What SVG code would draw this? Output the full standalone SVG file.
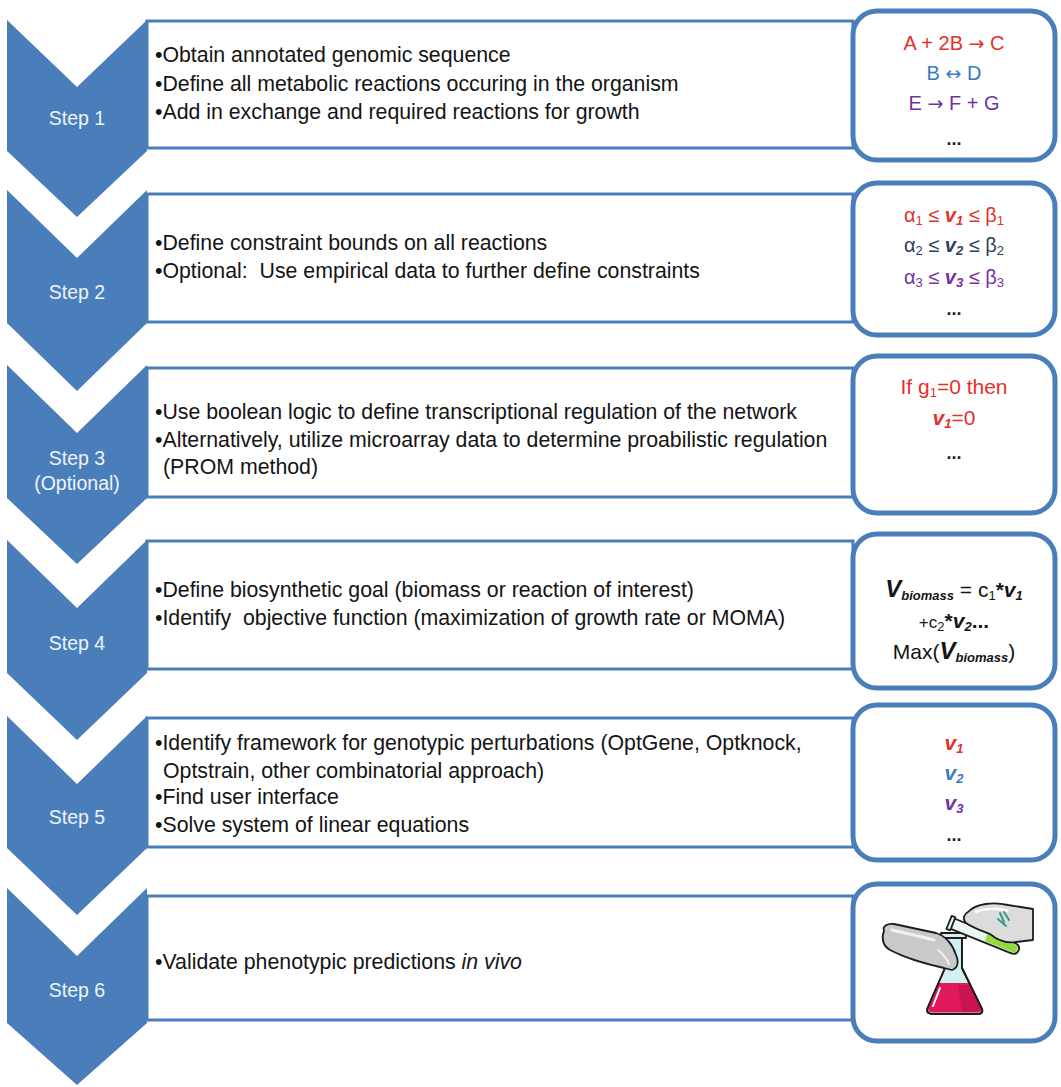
<svg xmlns="http://www.w3.org/2000/svg" width="1061" height="1087" viewBox="0 0 1061 1087">
  <style>
    .chev { fill: #4a7ebb; }
    .panel { fill: #ffffff; stroke: #4a7ebb; stroke-width: 3; }
    .side { fill: #ffffff; stroke: #4a7ebb; stroke-width: 5; }
    .step { font-family: "Liberation Sans", Arial, sans-serif; font-size: 19.5px; fill: #eef3fa; text-anchor: middle; }
    .body { font-family: "Liberation Sans", Arial, sans-serif; font-size: 21.3px; fill: #141414; white-space: pre; }
    .eq { font-family: "Liberation Sans", Arial, sans-serif; font-size: 20px; text-anchor: middle; }
    .arw { font-family: "DejaVu Sans", sans-serif; font-size: 19px; }
    .red { fill: #e2302c; }
    .blue { fill: #3b79c2; }
    .navy { fill: #2e3f5e; }
    .purple { fill: #7332a2; }
    .blk { fill: #141414; }
    .bi { font-weight: bold; font-style: italic; }
    .sub { font-size: 13px; }
    .dots { font-family: "Liberation Sans", Arial, sans-serif; font-size: 18px; font-weight: bold; fill: #222; text-anchor: middle; }
    .ink { stroke: #1c1c1c; stroke-width: 1.8; stroke-linejoin: round; }
  </style>

  <!-- step 1 -->
  <g id="step1">
    <polygon class="chev" points="7,20 77,87 147,20 147,151 77,217 7,151"/>
    <text class="step" x="77" y="125">Step 1</text>
    <rect class="panel" x="147" y="21" width="706" height="127"/>
    <text class="body" x="155" y="62">•Obtain annotated genomic sequence</text>
    <text class="body" x="155" y="91">•Define all metabolic reactions occuring in the organism</text>
    <text class="body" x="155" y="119">•Add in exchange and required reactions for growth</text>
    <rect class="side" x="853" y="11" width="202" height="149" rx="24"/>
    <text class="eq red" x="954" y="50">A + 2B <tspan class="arw">→</tspan> C</text>
    <text class="eq blue" x="954" y="80">B <tspan class="arw">↔</tspan> D</text>
    <text class="eq purple" x="954" y="110">E <tspan class="arw">→</tspan> F + G</text>
    <text class="dots" x="954" y="145">...</text>
  </g>

  <!-- step 2 -->
  <g id="step2">
    <polygon class="chev" points="7,190 77,258 147,190 147,323 77,391 7,323"/>
    <text class="step" x="77" y="299">Step 2</text>
    <rect class="panel" x="147" y="194" width="706" height="128"/>
    <text class="body" x="155" y="250">•Define constraint bounds on all reactions</text>
    <text class="body" x="155" y="278">•Optional:  Use empirical data to further define constraints</text>
    <rect class="side" x="853" y="183" width="202" height="152" rx="24"/>
    <text class="eq red" x="954" y="222">α<tspan class="sub" baseline-shift="-20%">1</tspan> ≤ <tspan class="bi">v<tspan class="sub" baseline-shift="-20%">1</tspan></tspan> ≤ β<tspan class="sub" baseline-shift="-20%">1</tspan></text>
    <text class="eq navy" x="954" y="252">α<tspan class="sub" baseline-shift="-20%">2</tspan> ≤ <tspan class="bi">v<tspan class="sub" baseline-shift="-20%">2</tspan></tspan> ≤ β<tspan class="sub" baseline-shift="-20%">2</tspan></text>
    <text class="eq purple" x="954" y="284">α<tspan class="sub" baseline-shift="-20%">3</tspan> ≤ <tspan class="bi">v<tspan class="sub" baseline-shift="-20%">3</tspan></tspan> ≤ β<tspan class="sub" baseline-shift="-20%">3</tspan></text>
    <text class="dots" x="954" y="315">...</text>
  </g>

  <!-- step 3 -->
  <g id="step3">
    <polygon class="chev" points="7,365 77,433 147,365 147,498 77,564 7,498"/>
    <text class="step" x="77" y="465">Step 3</text>
    <text class="step" x="77" y="490">(Optional)</text>
    <rect class="panel" x="147" y="368" width="706" height="129"/>
    <text class="body" x="155" y="419">•Use boolean logic to define transcriptional regulation of the network</text>
    <text class="body" x="155" y="447">•Alternatively, utilize microarray data to determine proabilistic regulation</text>
    <text class="body" x="163" y="474">(PROM method)</text>
    <rect class="side" x="853" y="356" width="202" height="157" rx="24"/>
    <text class="eq red" x="954" y="394" style="font-size:21px">If g<tspan class="sub" baseline-shift="-20%">1</tspan>=0 then</text>
    <text class="eq red" x="954" y="425" style="font-size:21px"><tspan class="bi">v<tspan class="sub" baseline-shift="-20%">1</tspan></tspan>=0</text>
    <text class="dots" x="954" y="459">...</text>
  </g>

  <!-- step 4 -->
  <g id="step4">
    <polygon class="chev" points="7,540 77,608 147,540 147,673 77,740 7,673"/>
    <text class="step" x="77" y="650">Step 4</text>
    <rect class="panel" x="147" y="541" width="706" height="128"/>
    <text class="body" x="155" y="597">•Define biosynthetic goal (biomass or reaction of interest)</text>
    <text class="body" x="155" y="625">•Identify  objective function (maximization of growth rate or MOMA)</text>
    <rect class="side" x="853" y="534" width="202" height="154" rx="24"/>
    <text class="eq blk" x="954" y="597" style="font-size:21px"><tspan class="bi" style="font-size:24px">V</tspan><tspan class="bi sub" baseline-shift="-20%">biomass</tspan> = c<tspan class="sub" baseline-shift="-20%">1</tspan><tspan font-weight="bold">*</tspan><tspan class="bi">v</tspan><tspan class="bi sub" baseline-shift="-20%">1</tspan></text>
    <text class="eq blk" x="954" y="628" style="font-size:21px"><tspan style="font-size:17px">+c</tspan><tspan class="sub" baseline-shift="-20%">2</tspan><tspan font-weight="bold">*</tspan><tspan class="bi">v</tspan><tspan class="bi sub" baseline-shift="-20%">2</tspan><tspan font-weight="bold">...</tspan></text>
    <text class="eq blk" x="954" y="659" style="font-size:21px">Max(<tspan class="bi" style="font-size:24px">V</tspan><tspan class="bi sub" baseline-shift="-20%">biomass</tspan>)</text>
  </g>

  <!-- step 5 -->
  <g id="step5">
    <polygon class="chev" points="7,716 77,784 147,716 147,848 77,915 7,848"/>
    <text class="step" x="77" y="824">Step 5</text>
    <rect class="panel" x="147" y="718" width="706" height="129"/>
    <text class="body" x="155" y="750">•Identify framework for genotypic perturbations (OptGene, Optknock,</text>
    <text class="body" x="163" y="778">Optstrain, other combinatorial approach)</text>
    <text class="body" x="155" y="804">•Find user interface</text>
    <text class="body" x="155" y="832">•Solve system of linear equations</text>
    <rect class="side" x="853" y="705" width="202" height="155" rx="24"/>
    <text class="eq red bi" x="954" y="750" style="font-size:21px">v<tspan class="sub" baseline-shift="-20%">1</tspan></text>
    <text class="eq blue bi" x="954" y="780" style="font-size:21px">v<tspan class="sub" baseline-shift="-20%">2</tspan></text>
    <text class="eq purple bi" x="954" y="810" style="font-size:21px">v<tspan class="sub" baseline-shift="-20%">3</tspan></text>
    <text class="dots" x="954" y="841">...</text>
  </g>

  <!-- step 6 -->
  <g id="step6">
    <polygon class="chev" points="7,888 77,956 147,888 147,1023 77,1085 7,1023"/>
    <text class="step" x="77" y="997">Step 6</text>
    <rect class="panel" x="147" y="896" width="706" height="124"/>
    <text class="body" x="155" y="969">•Validate phenotypic predictions <tspan font-style="italic">in vivo</tspan></text>
    <rect class="side" x="853" y="884" width="202" height="157" rx="24"/>

    <!-- lab scene: flask, test tube and two gloved hands -->
    <g id="flask-scene">
      <!-- flask glass -->
      <path class="ink" d="M945 937 L945 968 L928 1007 Q925 1014 933 1014 L977 1014 Q985 1014 981 1007 L962 968 L962 937 Z" fill="#d2f0f1"/>
      <!-- flask liquid -->
      <path d="M938.6 983 L928.8 1006 Q926.5 1012.5 933 1012.5 L977 1012.5 Q983.5 1012.5 980.5 1006 L969 983 Z" fill="#e0195d"/>
      <path d="M958 985 L969 985 L980 1006 Q982 1011 976 1012 L962 1012 Z" fill="#b8104a" opacity="0.6"/>
      <path d="M945 937 L945 968 L928 1007 Q925 1014 933 1014 L977 1014 Q985 1014 981 1007 L962 968 L962 937" fill="none" class="ink"/>
      <path d="M940 988 L933 1006" stroke="#ffffff" stroke-width="2" stroke-linecap="round"/>
      <rect class="ink" x="941" y="933" width="25" height="5" fill="#d2f0f1"/>
      <!-- test tube -->
      <g transform="translate(953,918) rotate(22)">
        <path class="ink" d="M0 0 L66 0 Q73 0 73 5.5 Q73 11 66 11 L0 11 Z" fill="#eaf8ee"/>
        <path d="M38 1.5 L66 1.5 Q71.5 1.5 71.5 5.5 Q71.5 9.5 66 9.5 L38 9.5 Z" fill="#8fdc3c"/>
        <rect class="ink" x="-2" y="-1.5" width="4" height="14" fill="#eaf8ee"/>
      </g>
      <!-- right glove holding the tube -->
      <path class="ink" d="M968 912 C976 903 994 902 1008 905 L1033 909 L1033 940 L1016 942 C1006 944 996 939 990 934 C982 931 973 928 966 923 C962 919 964 914 968 912 Z" fill="#dcdcdc"/>
      <path d="M975 912 C985 908 998 908 1008 911" fill="none" stroke="#ffffff" stroke-width="2.5"/>
      <path d="M1000 913 L1004 922 M1004 912 L1009 920 M998 919 L1006 926" stroke="#3a9a88" stroke-width="2" stroke-linecap="round"/>
      <!-- left glove reaching into the flask neck -->
      <path class="ink" d="M884 931 C882 926 888 923 894 924 L936 933 C946 936 953 945 956 955 C959 962 958 968 952 970 L944 968 C930 965 905 958 890 950 C883 946 881 938 884 931 Z" fill="#c9c9c9"/>
      <path d="M892 930 C905 933 920 936 934 940" fill="none" stroke="#f2f2f2" stroke-width="3" stroke-linecap="round"/>
      <path d="M938 950 C943 954 947 959 949 964" fill="none" stroke="#f2f2f2" stroke-width="2" stroke-linecap="round"/>
    </g>
  </g>
</svg>
